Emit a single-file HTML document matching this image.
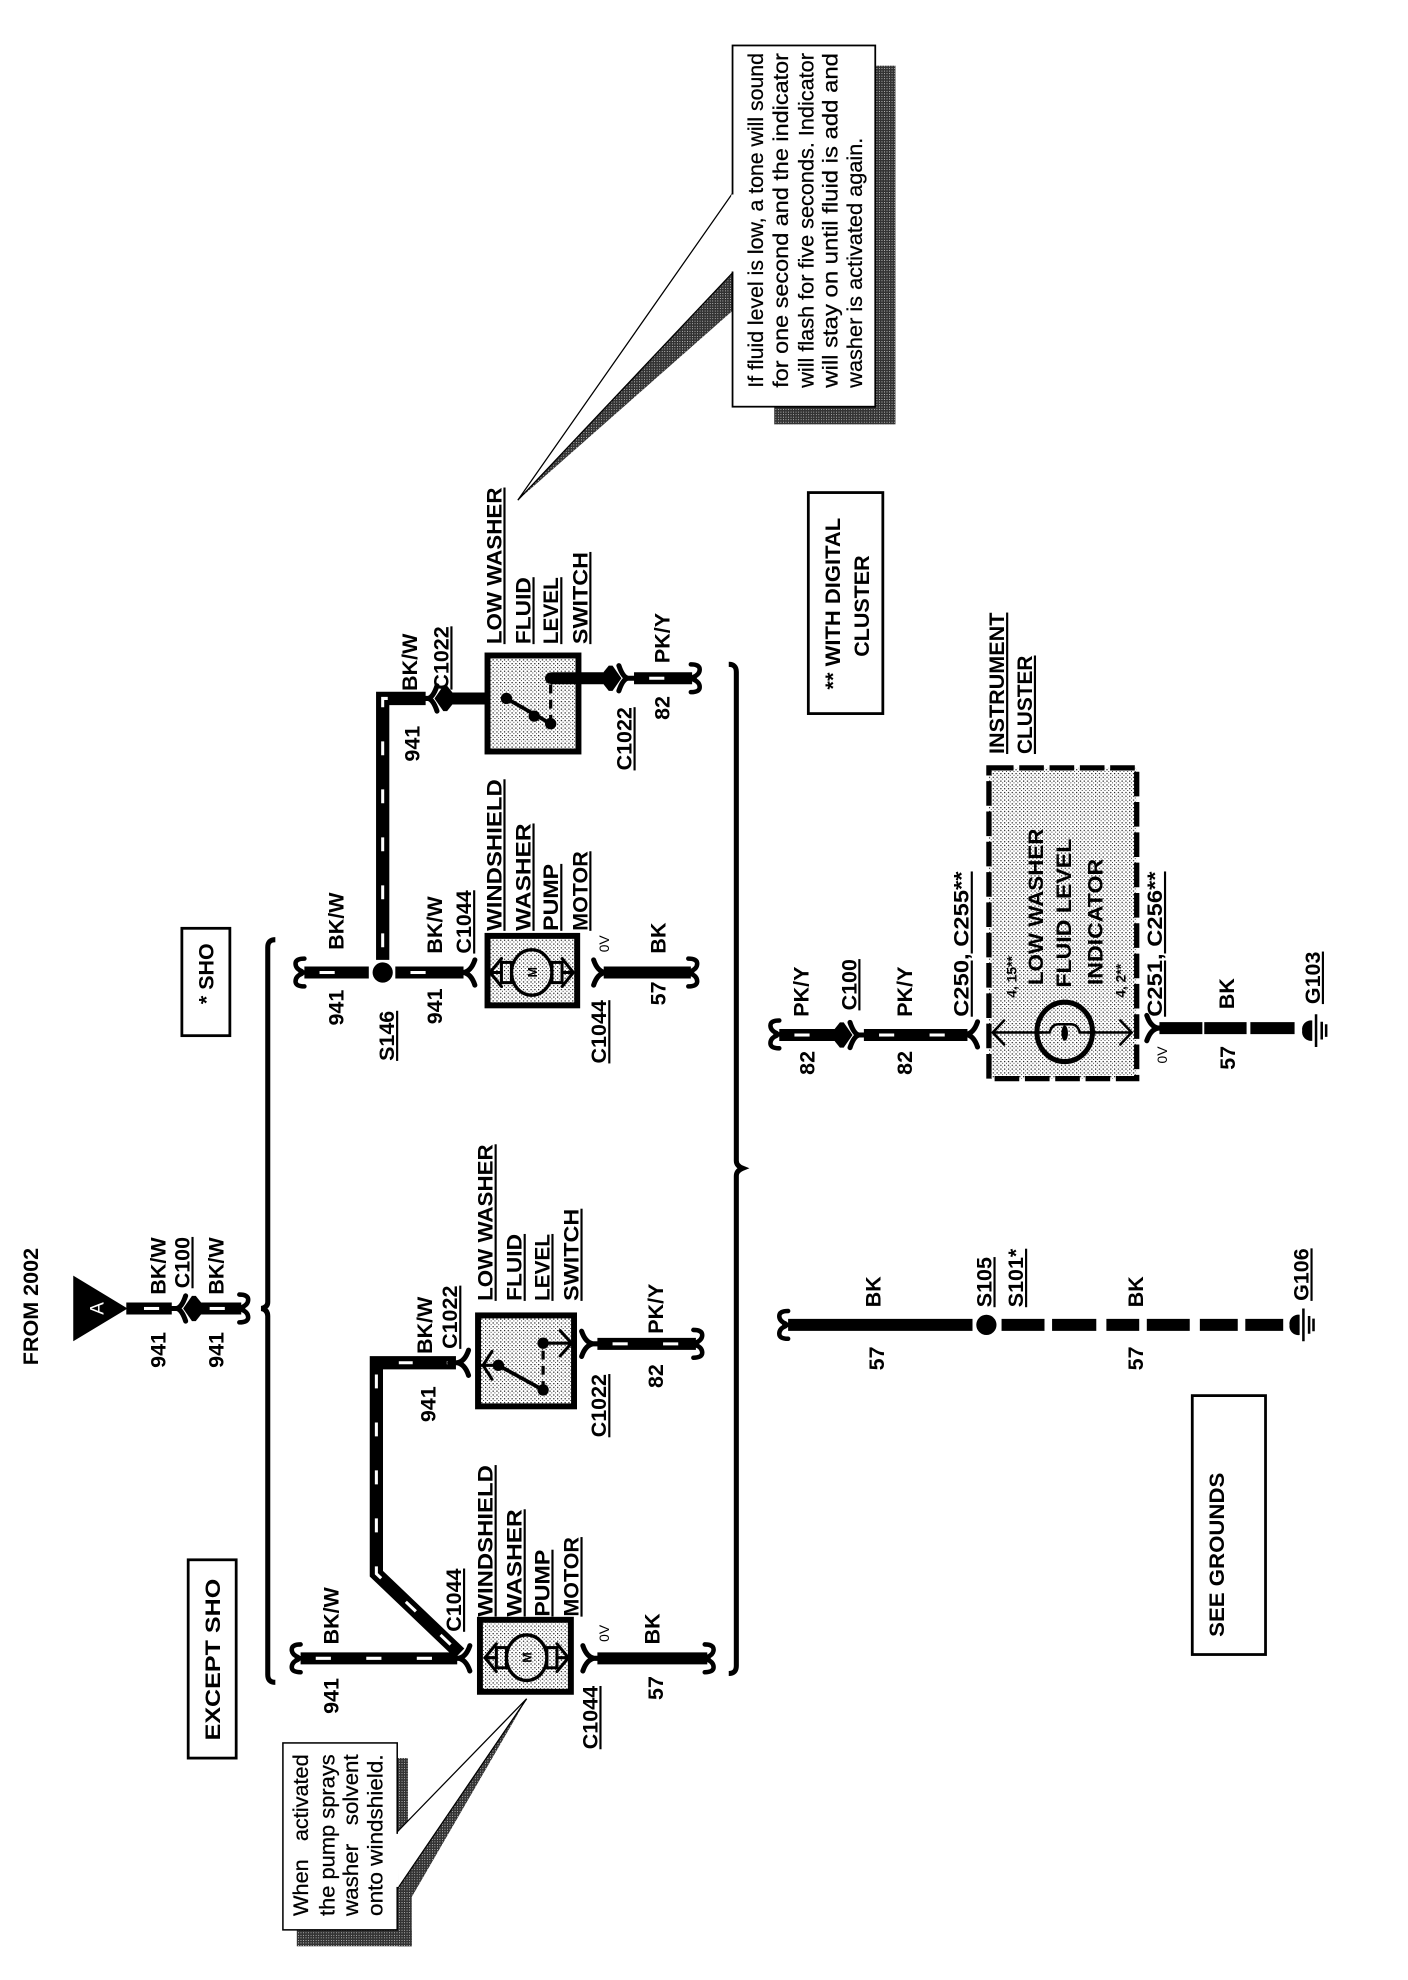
<!DOCTYPE html>
<html><head><meta charset="utf-8"><style>
html,body{margin:0;padding:0;background:#fff}
svg{display:block}
text{font-family:"Liberation Sans",sans-serif;font-weight:700;font-size:17px;fill:#000}
.u{text-decoration:underline}
.n{font-weight:400;font-size:16.5px;stroke:#000;stroke-width:.2}
.s{font-size:11px;font-weight:400}
.w{fill:none;stroke:#000;stroke-width:9.5;stroke-linejoin:miter}
.t{fill:none;stroke:#fff;stroke-width:2.4;stroke-dasharray:12 40;stroke-dashoffset:-12}
.tt{fill:none;stroke:#fff;stroke-width:2.4;stroke-dasharray:11 27;stroke-dashoffset:-10}
.c{fill:none;stroke:#000;stroke-width:4;stroke-linecap:round}
</style></head><body>
<svg xmlns="http://www.w3.org/2000/svg" width="1408" height="1980" viewBox="0 0 1408 1980">
<defs>
<pattern id="st" width="3" height="3" patternUnits="userSpaceOnUse"><rect width="3" height="3" fill="#fff"/><rect width=".95" height=".95" fill="#111"/><rect x="1.5" y="1.5" width=".7" height=".7" fill="#111"/></pattern>
<pattern id="sh" width="2" height="2" patternUnits="userSpaceOnUse"><rect width="2" height="2" fill="#333"/><rect width=".6" height=".6" fill="#fff"/></pattern>
<g id="f"><path class="c" d="M-9 0H-2M-3 0Q3-1 6-10M-3 0Q3 1 6 10"/></g>
<g id="h"><path class="c" style="stroke-width:3.6" d="M6 0H1M2-1Q-3-3-3-7Q-3-11 4-11M2 1Q-3 3-3 7Q-3 11 4 11"/></g>
<g id="a"><polygon points="-13,-5 -9,-10 -6,-10 1,0 -6,10 -9,10 -13,5"/><path class="c" d="M12 0H6Q2-1-1-10M6 0Q2 1-1 10"/></g>
<g id="g"><path d="M-7 0A7 7 0 0 1 1-8V8A7 7 0 0 1-7 0Z"/><path fill="none" stroke="#000" stroke-width="2" d="M4-13V13M8.5-7V7M12-5V5"/></g>
<g id="m"><ellipse rx="16" ry="18" fill="none" stroke="#000" stroke-width="2.6"/><rect x="-24" y="-8" width="8" height="16" fill="none" stroke="#000" stroke-width="2.4"/><rect x="16" y="-8" width="8" height="16" fill="none" stroke="#000" stroke-width="2.4"/><path class="c" style="stroke-width:2.4" d="M-24 0H-33M-24-11L-33 0L-24 11M24 0H33M24-11L33 0L24 11"/><text style="font-weight:700;font-size:10px" transform="translate(4,4) rotate(-90)">M</text></g>
</defs>
<rect width="1408" height="1980" fill="#fff"/>
<g transform="scale(1.263)">

<!-- header / source -->
<text transform="translate(30,1081) rotate(-90)" textLength="93" lengthAdjust="spacingAndGlyphs">FROM 2002</text>
<polygon points="58,1010 58,1062 101,1036"/>
<text transform="translate(82,1041) rotate(-90)" style="fill:#fff;font-size:15px;font-weight:400">A</text>
<path class="w" d="M100 1036H136"/>
<path class="t" style="stroke-dashoffset:-14" d="M100 1036H136"/>
<use href="#a" transform="translate(146,1036) scale(-1,1)"/>
<path class="w" d="M154 1036H191"/><path class="t" style="stroke-dashoffset:-12" d="M154 1036H191"/>
<use href="#h" transform="translate(193.5,1036) scale(-1,1)"/>
<text transform="translate(131,1083) rotate(-90)">941</text>
<text transform="translate(131,1025) rotate(-90)">BK/W</text>
<text class="u" transform="translate(150,1020) rotate(-90)">C100</text>
<text transform="translate(177,1083) rotate(-90)">941</text>
<text transform="translate(177,1025) rotate(-90)">BK/W</text>

<!-- brackets -->
<path fill="none" stroke="#000" stroke-width="4" d="M218 744Q212 744 212 750V1031Q212 1035 207 1036Q212 1037 212 1042V1326Q212 1332 218 1332"/>
<path fill="none" stroke="#000" stroke-width="4" d="M577 526Q583 526 583 532V919Q583 923 588 925Q583 927 583 931V1319Q583 1325 577 1325"/>

<!-- boxes -->
<rect x="149" y="1235" width="38" height="157" fill="#fff" stroke="#000" stroke-width="2.2"/>
<text transform="translate(174,1378) rotate(-90)" textLength="128" lengthAdjust="spacingAndGlyphs">EXCEPT SHO</text>
<rect x="144" y="735" width="38" height="85" fill="#fff" stroke="#000" stroke-width="2.2"/>
<text transform="translate(169,795) rotate(-90)">* SHO</text>
<rect x="640" y="390" width="59" height="175" fill="#fff" stroke="#000" stroke-width="2.2"/>
<text transform="translate(665,546) rotate(-90)" textLength="136" lengthAdjust="spacingAndGlyphs">** WITH DIGITAL</text>
<text transform="translate(688,520) rotate(-90)">CLUSTER</text>
<rect x="944" y="1105" width="58" height="205" fill="#fff" stroke="#000" stroke-width="2.2"/>
<text transform="translate(969,1296) rotate(-90)" textLength="130" lengthAdjust="spacingAndGlyphs">SEE GROUNDS</text>

<!-- top callout -->
<rect x="613" y="52" width="96" height="284" fill="url(#sh)"/>
<polygon points="580,216 580,246 410,396" fill="url(#sh)"/>
<polygon points="580,153 580,216 410,396" fill="#fff" stroke="#000" stroke-width="1"/>
<rect x="580" y="36" width="113" height="286" fill="#fff" stroke="#000" stroke-width="1.4"/>
<path stroke="#fff" stroke-width="2" d="M580 154V215"/>
<text class="n" transform="translate(604,307) rotate(-90)" textLength="265" lengthAdjust="spacingAndGlyphs">If fluid level is low, a tone will sound</text>
<text class="n" transform="translate(624,307) rotate(-90)" textLength="265" lengthAdjust="spacingAndGlyphs">for one second and the indicator</text>
<text class="n" transform="translate(644,307) rotate(-90)" textLength="265" lengthAdjust="spacingAndGlyphs">will flash for five seconds. Indicator</text>
<text class="n" transform="translate(663,307) rotate(-90)" textLength="265" lengthAdjust="spacingAndGlyphs">will stay on until fluid is add and</text>
<text class="n" transform="translate(682.5,307) rotate(-90)" textLength="198" lengthAdjust="spacingAndGlyphs">washer is activated again.</text>

<!-- bottom callout -->
<rect x="314" y="1392" width="9" height="60" fill="url(#sh)"/>
<polygon points="315,1495 326,1502 417,1345" fill="url(#sh)"/>
<rect x="315" y="1495" width="11" height="46" fill="url(#sh)"/>
<rect x="235" y="1528" width="91" height="13" fill="url(#sh)"/>
<polygon points="314,1451 315,1495 417,1345" fill="#fff" stroke="#000" stroke-width="1"/>
<rect x="224" y="1380" width="90.5" height="148" fill="#fff" stroke="#000" stroke-width="1.2"/>
<path stroke="#fff" stroke-width="2" d="M314.5 1452V1494"/>
<text class="n" transform="translate(244,1517) rotate(-90)" textLength="128" lengthAdjust="spacingAndGlyphs">When&#160;&#160;&#160;activated</text>
<text class="n" transform="translate(265,1517) rotate(-90)" textLength="128" lengthAdjust="spacingAndGlyphs">the pump sprays</text>
<text class="n" transform="translate(283.5,1517) rotate(-90)" textLength="128" lengthAdjust="spacingAndGlyphs">washer&#160;&#160;&#160;solvent</text>
<text class="n" transform="translate(303,1517) rotate(-90)" textLength="128" lengthAdjust="spacingAndGlyphs">onto windshield.</text>

<!-- EXCEPT SHO -->
<use href="#h" transform="translate(234,1313)"/>
<path class="w" d="M238 1313H362"/><path class="t" style="stroke-dasharray:12 28" d="M238 1313H362"/>
<path class="w" style="stroke-width:10.5" d="M364 1309L298 1246V1079H361"/><path class="tt" d="M364 1309L298 1246V1079H361"/>
<use href="#f" transform="translate(366,1313)"/><use href="#f" transform="translate(365,1079)"/>
<text transform="translate(268,1302) rotate(-90)">BK/W</text>
<text transform="translate(268,1357) rotate(-90)">941</text>
<text class="u" transform="translate(365,1292) rotate(-90)">C1044</text>
<text transform="translate(342,1072) rotate(-90)">BK/W</text>
<text class="u" transform="translate(362,1068) rotate(-90)">C1022</text>
<text transform="translate(345,1126) rotate(-90)">941</text>

<rect x="380" y="1282.5" width="72" height="57" fill="url(#st)" stroke="#000" stroke-width="4.7"/>
<use href="#m" transform="translate(417,1312.5)"/>
<text class="u" transform="translate(390,1280) rotate(-90)" textLength="120" lengthAdjust="spacingAndGlyphs">WINDSHIELD</text>
<text class="u" transform="translate(413,1280) rotate(-90)" textLength="85" lengthAdjust="spacingAndGlyphs">WASHER</text>
<text class="u" transform="translate(435,1280) rotate(-90)" textLength="53" lengthAdjust="spacingAndGlyphs">PUMP</text>
<text class="u" transform="translate(458,1280) rotate(-90)" textLength="63" lengthAdjust="spacingAndGlyphs">MOTOR</text>
<text class="s" transform="translate(482,1300) rotate(-90)">0V</text>
<use href="#f" transform="translate(467.5,1313) scale(-1,1)"/>
<path class="w" d="M473 1313H560"/><use href="#h" transform="translate(562,1313) scale(-1,1)"/>
<text transform="translate(522,1302) rotate(-90)">BK</text>
<text transform="translate(525,1346) rotate(-90)">57</text>
<text class="u" transform="translate(473,1385) rotate(-90)">C1044</text>

<rect x="378.5" y="1041.5" width="76" height="72" fill="url(#st)" stroke="#000" stroke-width="4.7"/>
<path class="c" style="stroke-width:2.4" d="M381 1081H394M389.5 1070L382.5 1081L389.5 1092"/>
<path class="c" style="stroke-width:2.4" d="M452.5 1063.5H430M443.5 1053.5L452.5 1063.5L443.5 1073.5"/>
<circle cx="394.6" cy="1081" r="4.5"/><circle cx="430" cy="1100.5" r="4.5"/><circle cx="430" cy="1063.5" r="4.5"/>
<path stroke="#000" stroke-width="3" d="M394.6 1081L430 1100.5"/>
<path stroke="#000" stroke-width="2.6" stroke-dasharray="7 5" d="M430 1100.5V1063.5"/>
<text class="u" transform="translate(390,1030) rotate(-90)" textLength="124" lengthAdjust="spacingAndGlyphs">LOW WASHER</text>
<text class="u" transform="translate(413,1030) rotate(-90)" textLength="53" lengthAdjust="spacingAndGlyphs">FLUID</text>
<text class="u" transform="translate(435,1030) rotate(-90)" textLength="53" lengthAdjust="spacingAndGlyphs">LEVEL</text>
<text class="u" transform="translate(458,1030) rotate(-90)" textLength="73" lengthAdjust="spacingAndGlyphs">SWITCH</text>
<use href="#f" transform="translate(466.5,1064) scale(-1,1)"/>
<path class="w" d="M473 1064H551"/><path class="t" style="stroke-dasharray:12 28" d="M473 1064H551"/><use href="#h" transform="translate(553,1064) scale(-1,1)"/>
<text transform="translate(525,1056) rotate(-90)">PK/Y</text>
<text transform="translate(525,1099) rotate(-90)">82</text>
<text class="u" transform="translate(480,1138) rotate(-90)">C1022</text>

<!-- SHO -->
<use href="#h" transform="translate(237,770)"/>
<path class="w" d="M241 770H292"/><path class="t" d="M241 770H292"/>
<circle cx="303" cy="770" r="8"/>
<path class="w" d="M313 770H367"/><path class="t" d="M313 770H367"/>
<use href="#f" transform="translate(370,770)"/>
<path class="w" style="stroke-width:10.5" d="M303 760V553H337"/><path class="tt" d="M303 760V553H337"/>
<use href="#a" transform="translate(345,553) scale(-1,1)"/>
<path class="w" d="M350 553H386"/>
<text transform="translate(272,752) rotate(-90)">BK/W</text>
<text transform="translate(272,812) rotate(-90)">941</text>
<text class="u" transform="translate(312,840) rotate(-90)">S146</text>
<text transform="translate(350,755) rotate(-90)">BK/W</text>
<text class="u" transform="translate(373,755) rotate(-90)">C1044</text>
<text transform="translate(350,811) rotate(-90)">941</text>
<rect x="386" y="741" width="71" height="55" fill="url(#st)" stroke="#000" stroke-width="4.7"/>
<use href="#m" transform="translate(421,770)"/>
<text class="u" transform="translate(397,737) rotate(-90)" textLength="120" lengthAdjust="spacingAndGlyphs">WINDSHIELD</text>
<text class="u" transform="translate(420,737) rotate(-90)" textLength="85" lengthAdjust="spacingAndGlyphs">WASHER</text>
<text class="u" transform="translate(442,737) rotate(-90)" textLength="53" lengthAdjust="spacingAndGlyphs">PUMP</text>
<text class="u" transform="translate(465,737) rotate(-90)" textLength="63" lengthAdjust="spacingAndGlyphs">MOTOR</text>
<text class="s" transform="translate(482,754) rotate(-90)">0V</text>
<use href="#f" transform="translate(476,770) scale(-1,1)"/>
<path class="w" d="M478 770H547"/><use href="#h" transform="translate(549,770) scale(-1,1)"/>
<text transform="translate(527,755) rotate(-90)">BK</text>
<text transform="translate(527,796) rotate(-90)">57</text>
<text class="u" transform="translate(480,842) rotate(-90)">C1044</text>

<rect x="386" y="519" width="72" height="76" fill="url(#st)" stroke="#000" stroke-width="4.7"/>
<circle cx="401" cy="553" r="4.5"/><circle cx="423" cy="567" r="4.5"/><circle cx="436" cy="573" r="4.5"/><circle cx="436" cy="537" r="4.5"/>
<path stroke="#000" stroke-width="3" d="M401 553L436 573"/>
<path stroke="#000" stroke-width="2.6" stroke-dasharray="7 5" d="M436 573V537"/>
<path class="w" d="M436 537H482"/>
<use href="#a" transform="translate(491,537)"/>
<path class="w" d="M502 537H548"/><path class="t" d="M502 537H548"/><use href="#h" transform="translate(551,537) scale(-1,1)"/>
<text transform="translate(330,547) rotate(-90)">BK/W</text>
<text class="u" transform="translate(355,546) rotate(-90)">C1022</text>
<text transform="translate(332,603) rotate(-90)">941</text>
<text class="u" transform="translate(397,510) rotate(-90)" textLength="124" lengthAdjust="spacingAndGlyphs">LOW WASHER</text>
<text class="u" transform="translate(420,510) rotate(-90)" textLength="53" lengthAdjust="spacingAndGlyphs">FLUID</text>
<text class="u" transform="translate(442,510) rotate(-90)" textLength="53" lengthAdjust="spacingAndGlyphs">LEVEL</text>
<text class="u" transform="translate(465,510) rotate(-90)" textLength="73" lengthAdjust="spacingAndGlyphs">SWITCH</text>
<text transform="translate(530,525) rotate(-90)">PK/Y</text>
<text transform="translate(530,570) rotate(-90)">82</text>
<text class="u" transform="translate(500,610) rotate(-90)">C1022</text>

<!-- instrument cluster row -->
<use href="#h" transform="translate(613,819)"/>
<path class="w" d="M617 819.5H664"/><path class="t" d="M617 819.5H664"/>
<use href="#a" transform="translate(674,819.5)"/>
<path class="w" d="M684 819.5H766"/><path class="t" style="stroke-dasharray:12 28" d="M684 819.5H766"/>
<use href="#f" transform="translate(768,819)"/>
<text transform="translate(640,805) rotate(-90)">PK/Y</text>
<text transform="translate(645,851) rotate(-90)">82</text>
<text class="u" transform="translate(678,800) rotate(-90)">C100</text>
<text transform="translate(722,805) rotate(-90)">PK/Y</text>
<text transform="translate(722,851) rotate(-90)">82</text>
<text class="u" transform="translate(767,805) rotate(-90)" textLength="115" lengthAdjust="spacingAndGlyphs">C250, C255**</text>
<rect x="783" y="608" width="117" height="246" fill="url(#st)" stroke="#000" stroke-width="4.2" stroke-dasharray="19.5 4.5"/>
<text class="u" transform="translate(795,597) rotate(-90)" textLength="112" lengthAdjust="spacingAndGlyphs">INSTRUMENT</text>
<text class="u" transform="translate(817,597) rotate(-90)" textLength="78" lengthAdjust="spacingAndGlyphs">CLUSTER</text>
<text transform="translate(826,780) rotate(-90)" textLength="124" lengthAdjust="spacingAndGlyphs">LOW WASHER</text>
<text transform="translate(848,782) rotate(-90)" textLength="118" lengthAdjust="spacingAndGlyphs">FLUID LEVEL</text>
<text transform="translate(873,780) rotate(-90)" textLength="100" lengthAdjust="spacingAndGlyphs">INDICATOR</text>
<text class="s" style="font-weight:700" transform="translate(805,790) rotate(-90)">4, 15**</text>
<text class="s" style="font-weight:700" transform="translate(891,790) rotate(-90)">4, 2**</text>
<path class="c" style="stroke-width:2" d="M786 817.5H896M795 808L786 817.5L795 827M887 808L896 817.5L887 827"/>
<ellipse cx="843" cy="817" rx="22" ry="23.5" fill="none" stroke="#000" stroke-width="4"/>
<rect x="825" y="812" width="36" height="12" fill="url(#st)"/>
<path fill="none" stroke="#000" stroke-width="2" d="M821 817.5H831Q833 811 838 811H848Q853 811 855 817.5H865"/>
<ellipse cx="843" cy="818" rx="2.6" ry="6"/>
<use href="#f" transform="translate(914,814) scale(-1,1)"/>
<path class="w" d="M918 814H952M953.5 814H987M990 814H1025"/>
<use href="#g" transform="translate(1038,816)"/>
<text class="u" transform="translate(920,805) rotate(-90)" textLength="115" lengthAdjust="spacingAndGlyphs">C251, C256**</text>
<text class="s" transform="translate(924,842) rotate(-90)">0V</text>
<text transform="translate(977,799) rotate(-90)">BK</text>
<text transform="translate(978,847) rotate(-90)">57</text>
<text class="u" transform="translate(1045,795) rotate(-90)">G103</text>

<!-- S105 row -->
<use href="#h" transform="translate(620,1049)"/>
<path class="w" d="M624 1049H770"/>
<circle cx="781" cy="1049" r="8"/>
<path class="w" d="M793 1049H827M833 1049H868M876 1049H902M908 1049H942M950 1049H980M986 1049H1016"/>
<use href="#g" transform="translate(1028,1049)"/>
<text transform="translate(697,1035) rotate(-90)">BK</text>
<text transform="translate(700,1085) rotate(-90)">57</text>
<text class="u" transform="translate(785,1035) rotate(-90)">S105</text>
<text class="u" transform="translate(810,1035) rotate(-90)">S101*</text>
<text transform="translate(905,1035) rotate(-90)">BK</text>
<text transform="translate(905,1085) rotate(-90)">57</text>
<text class="u" transform="translate(1036,1030) rotate(-90)">G106</text>
</g>
</svg>
</body></html>
